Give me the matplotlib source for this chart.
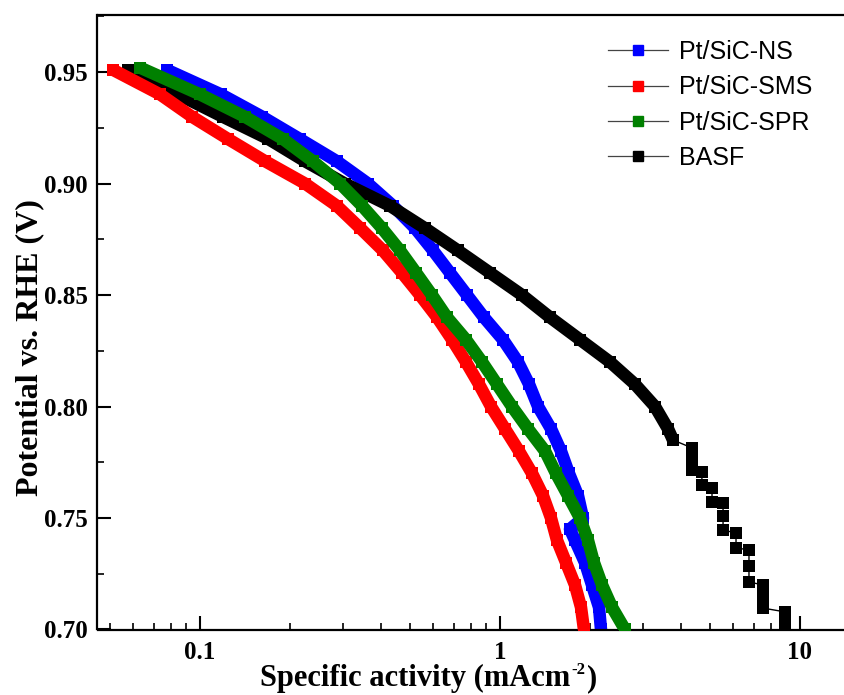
import numpy as np
import matplotlib
matplotlib.use("Agg")
import matplotlib.pyplot as plt
from matplotlib.lines import Line2D
from matplotlib.ticker import LogLocator, NullFormatter, MultipleLocator

# potential (V) vs specific activity (mA cm-2)
v_ns = [0.951, 0.94, 0.93, 0.92, 0.91, 0.90, 0.89, 0.88, 0.87, 0.86, 0.85, 0.84, 0.83,
        0.82, 0.81, 0.80, 0.79, 0.78, 0.77, 0.76, 0.75, 0.745, 0.74, 0.73, 0.72, 0.71, 0.70]
i_ns = [0.0776, 0.1175, 0.161, 0.215, 0.286, 0.363, 0.440, 0.521, 0.598, 0.681, 0.776, 0.884, 1.023,
        1.148, 1.250, 1.339, 1.479, 1.597, 1.698, 1.820, 1.891, 1.711, 1.778, 1.920, 2.026, 2.138, 2.171]

v_sms = [0.951, 0.94, 0.93, 0.92, 0.91, 0.90, 0.89, 0.88, 0.87, 0.86, 0.85, 0.84, 0.83,
         0.82, 0.81, 0.80, 0.79, 0.78, 0.77, 0.76, 0.75, 0.74, 0.73, 0.72, 0.71, 0.70]
i_sms = [0.0513, 0.0736, 0.094, 0.124, 0.165, 0.224, 0.286, 0.342, 0.407, 0.471, 0.541, 0.617, 0.692,
         0.770, 0.851, 0.933, 1.039, 1.157, 1.279, 1.391, 1.479, 1.549, 1.660, 1.778, 1.862, 1.905]

v_spr = [0.952, 0.94, 0.93, 0.92, 0.91, 0.90, 0.89, 0.88, 0.87, 0.86, 0.85, 0.84, 0.83,
         0.82, 0.81, 0.80, 0.79, 0.78, 0.77, 0.76, 0.75, 0.74, 0.73, 0.72, 0.71, 0.70]
i_spr = [0.0631, 0.100, 0.141, 0.189, 0.238, 0.293, 0.347, 0.404, 0.464, 0.525, 0.593, 0.666, 0.770,
         0.871, 0.977, 1.096, 1.240, 1.413, 1.537, 1.686, 1.848, 1.965, 2.057, 2.188, 2.362, 2.610]

# BASF: smooth upper part, then the stepped blocks at low potential
v_basf = [0.951, 0.94, 0.93, 0.92, 0.91, 0.90, 0.89, 0.88, 0.87, 0.86, 0.85, 0.84, 0.83,
          0.82, 0.81, 0.80, 0.79, 0.785]
i_basf = [0.0575, 0.0845, 0.119, 0.169, 0.224, 0.304, 0.430, 0.562, 0.724, 0.926, 1.184, 1.468, 1.848,
          2.326, 2.818, 3.286, 3.631, 3.773]
v_basf_low = [0.785, 0.7814, 0.7765, 0.7715, 0.7706, 0.7648, 0.7635, 0.7572, 0.7567, 0.7509, 0.7446,
              0.7433, 0.7366, 0.7357, 0.7285, 0.7213, 0.7200, 0.7150, 0.7096, 0.7079, 0.7038, 0.6998]
i_basf_low = [3.773, 4.37, 4.37, 4.37, 4.71, 4.71, 5.09, 5.09, 5.54, 5.54, 5.54,
              6.12, 6.12, 6.76, 6.76, 6.76, 7.53, 7.53, 7.53, 8.91, 8.91, 8.91]

labels = ['Pt/SiC-NS', 'Pt/SiC-SMS', 'Pt/SiC-SPR', 'BASF']
colors = ['#0000ff', '#ff0000', '#008000', '#000000']

fig = plt.figure(figsize=(8.45, 6.95), dpi=100)
ax = fig.add_axes([97.5 / 845, 1 - 629.5 / 695, 750 / 845, 614.5 / 695])

def band(x, y, c, z):
    ax.plot(x, y, color=c, lw=9, solid_capstyle='butt', solid_joinstyle='round', zorder=z)
    ax.plot(x, y, 's', color=c, ms=9, mew=0, zorder=z)

band(i_ns, v_ns, colors[0], 2)
band(i_basf, v_basf, colors[3], 3)
ax.plot(i_basf_low, v_basf_low, '-', color='k', lw=1, zorder=3)
ax.plot(i_basf_low, v_basf_low, 's', color='k', ms=9, mew=0, zorder=3)
band(i_sms, v_sms, colors[1], 4)
band(i_spr, v_spr, colors[2], 5)

ax.set_xscale('log')
ax.set_xlim(0.04553, 14.4)
ax.set_ylim(0.70, 0.9756)

ax.set_xticks([0.1, 1, 10], labels=['0.1', '1', '10'])
ax.xaxis.set_minor_locator(LogLocator(base=10, subs=np.arange(2, 10)))
ax.xaxis.set_minor_formatter(NullFormatter())
yt = [0.70, 0.75, 0.80, 0.85, 0.90, 0.95]
ax.set_yticks(yt, labels=['%.2f' % t for t in yt])
ax.yaxis.set_minor_locator(MultipleLocator(0.025))

ax.tick_params(which='both', direction='in', top=False, right=False)
ax.tick_params(which='major', length=10, width=1.5)
ax.tick_params(which='minor', length=5, width=1.2)
ax.tick_params(axis='x', pad=8)
ax.tick_params(axis='y', pad=7)
for lab in ax.get_xticklabels() + ax.get_yticklabels():
    lab.set_fontfamily('Liberation Serif')
    lab.set_fontweight('bold')
    lab.set_fontsize(18)
for s in ax.spines.values():
    s.set_linewidth(1.6)

# x label built from pieces so the superscript stays small
base_y = 1 - 686 / 695
lab_font = dict(family='Liberation Serif', weight='bold')
t1 = fig.text(260 / 845, base_y, 'Specific activity (mAcm', fontsize=22, va='baseline', **lab_font)
t2 = ax.annotate('-2', xy=(1.0, base_y + 12 / 695), xycoords=(t1, 'figure fraction'),
                 xytext=(1, 0), textcoords='offset points', fontsize=12, va='baseline', **lab_font)
ax.annotate(')', xy=(1.0, base_y), xycoords=(t2, 'figure fraction'),
            xytext=(1, 0), textcoords='offset points', fontsize=22, va='baseline', **lab_font)

ax.set_ylabel('Potential vs. RHE (V)', fontfamily='Liberation Serif',
              fontweight='bold', fontsize=23)
ax.yaxis.set_label_coords(-0.0713, 0.458)

handles = [Line2D([0], [0], color='#444444', lw=0.9, marker='s', ms=7,
                  mfc=c, mec=c) for c in colors]
ax.legend(handles, labels, loc='upper left', bbox_to_anchor=(608 / 845, 1 - 40 / 695),
          bbox_transform=fig.transFigure, frameon=False, borderpad=0, borderaxespad=0,
          handlelength=2.4, handletextpad=0.45, labelspacing=0.45,
          prop={'family': 'Liberation Sans', 'size': 18})

fig.savefig('out.png', dpi=100)
